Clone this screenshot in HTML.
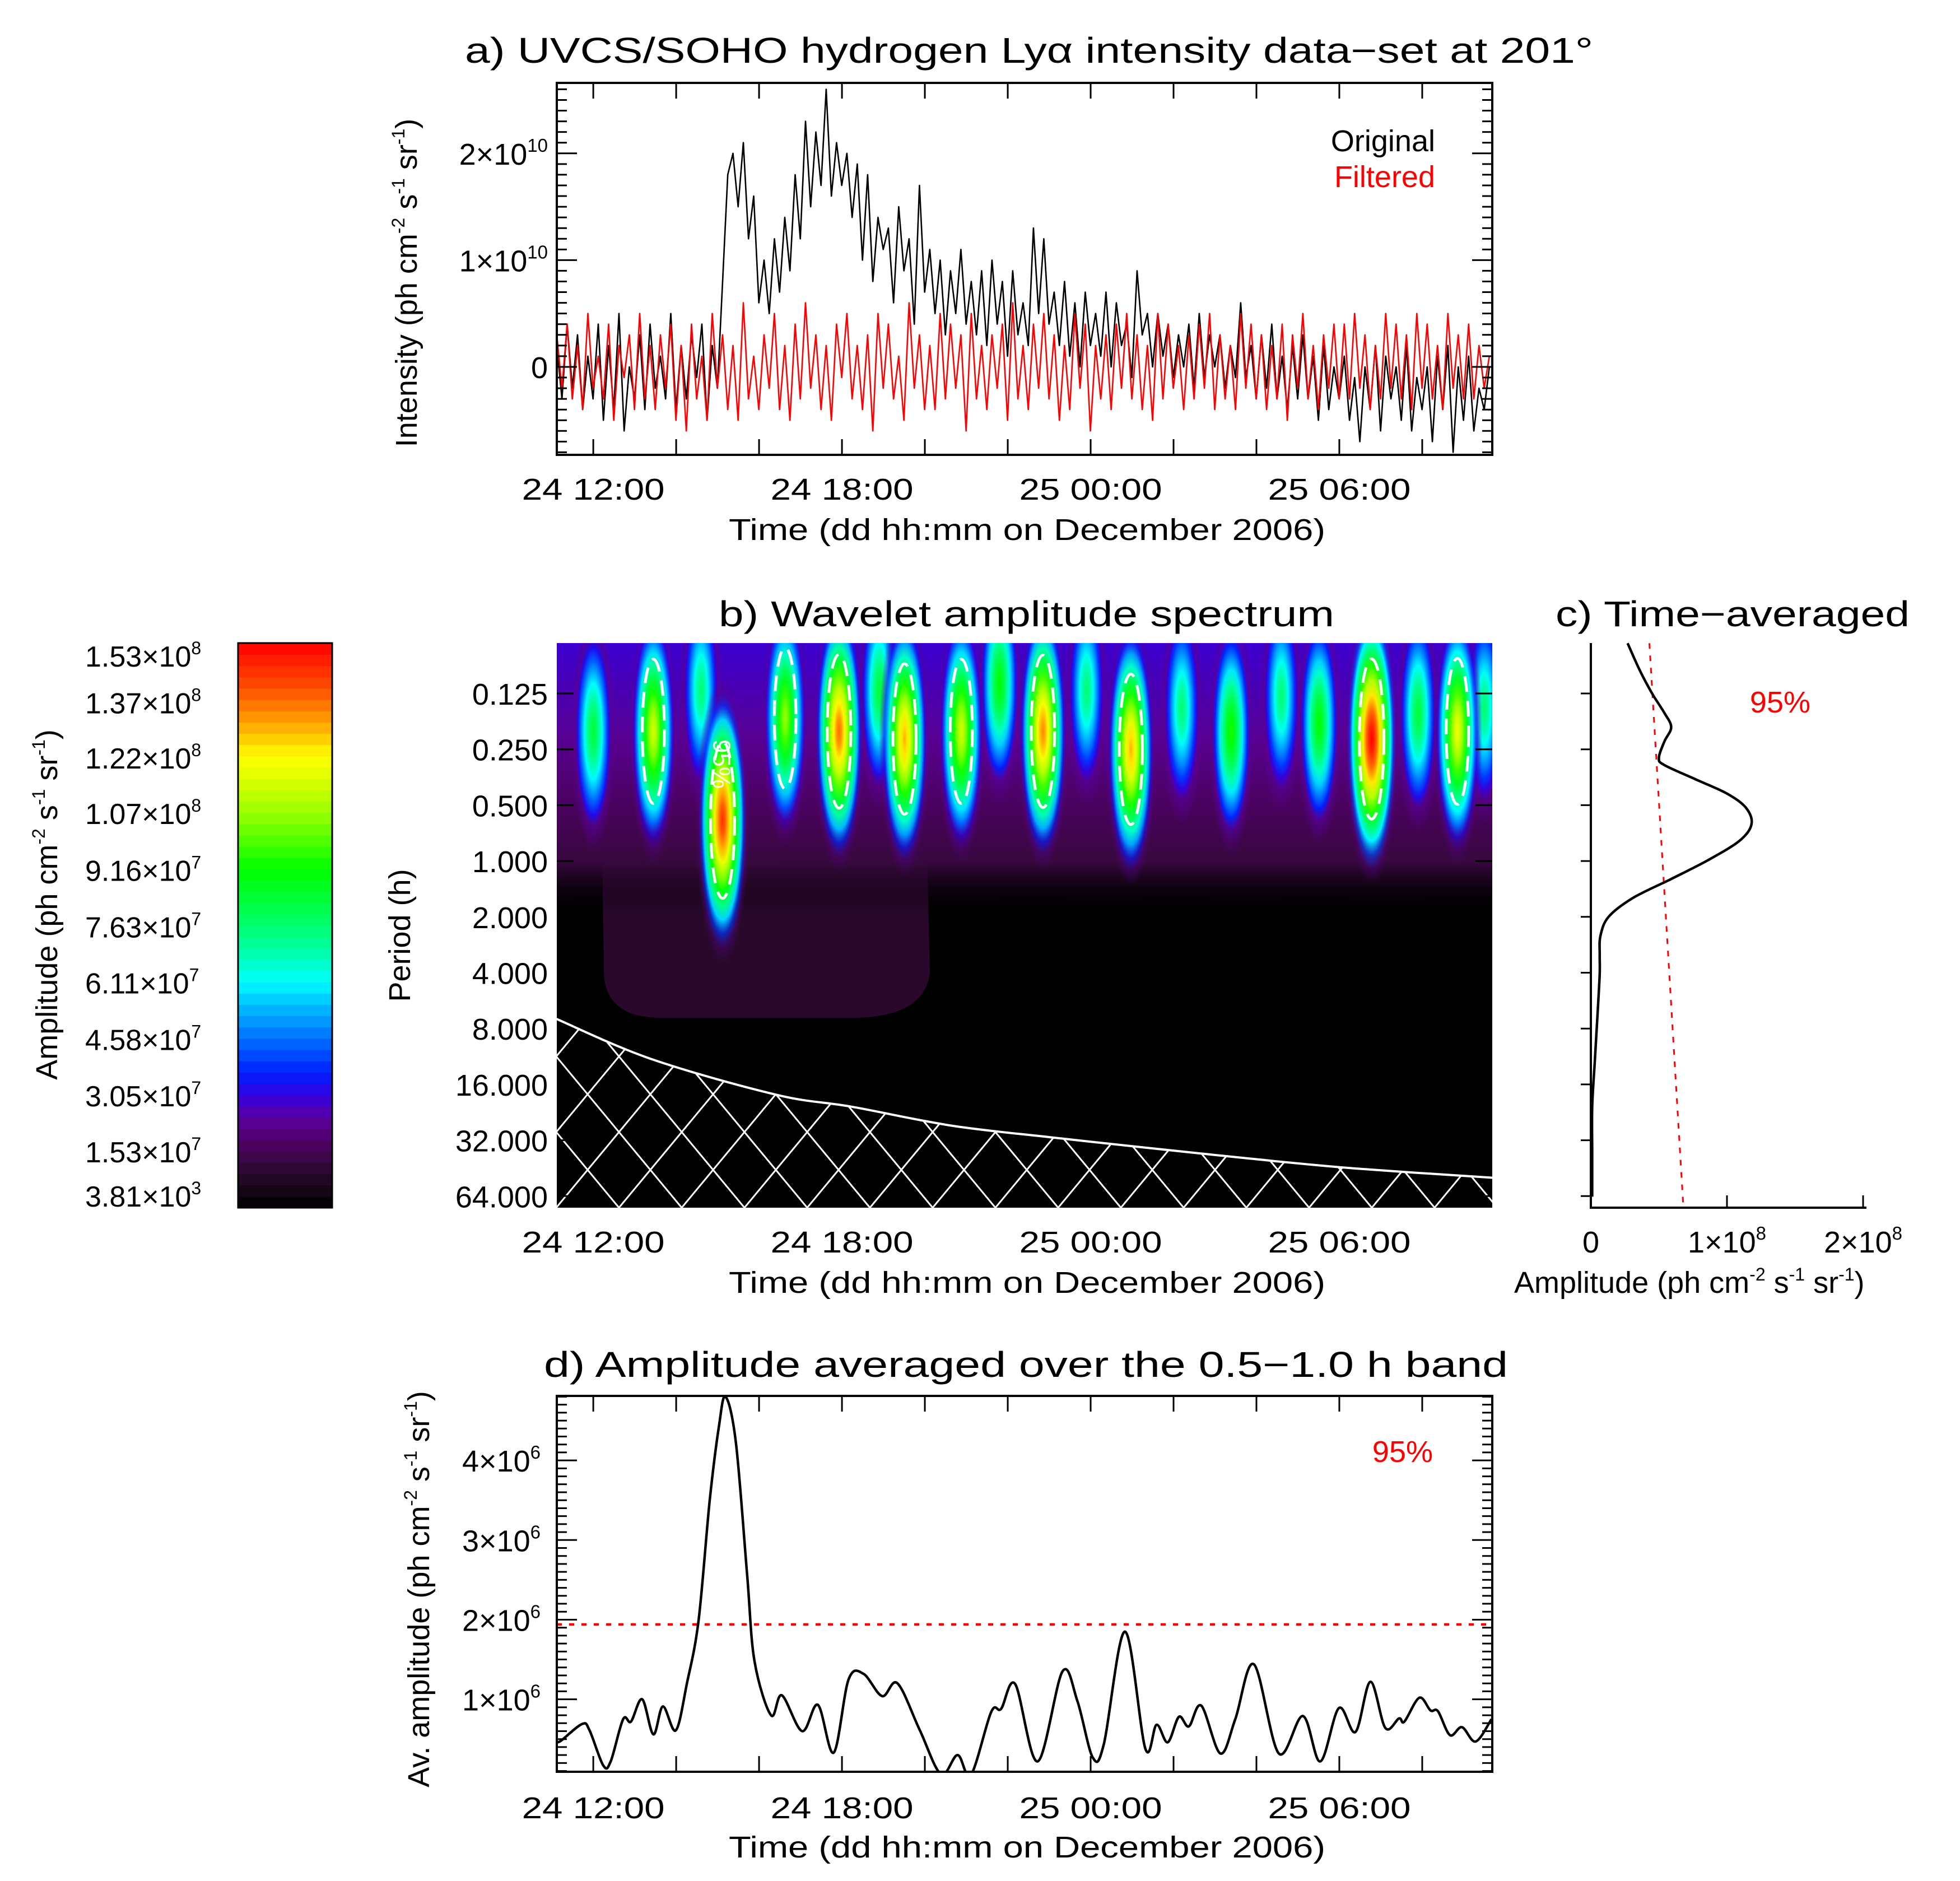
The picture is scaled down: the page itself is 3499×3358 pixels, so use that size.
<!DOCTYPE html>
<html><head><meta charset="utf-8"><style>
html,body{margin:0;padding:0;background:#fff;}
svg{display:block;font-family:"Liberation Sans",sans-serif;}
</style></head><body>
<svg id="fig" width="3499" height="3358" viewBox="0 0 3499 3358" xmlns="http://www.w3.org/2000/svg">
<rect x="0" y="0" width="3499" height="3358" fill="#fff"/>
<defs>
<pattern id="hatch" patternUnits="userSpaceOnUse" width="112" height="135" x="993" y="2156">
<line x1="0" y1="0" x2="112" y2="135" stroke="#fff" stroke-width="3"/>
<line x1="112" y1="0" x2="0" y2="135" stroke="#fff" stroke-width="3"/>
</pattern>
<clipPath id="clipB"><rect x="994" y="1148" width="1670" height="1008"/></clipPath>
<clipPath id="clipA"><rect x="994" y="148" width="1670" height="664"/></clipPath>
<clipPath id="clipD"><rect x="994" y="2492" width="1670" height="671"/></clipPath>
</defs>
<!-- titles -->
<text x="830" y="112" font-size="64" textLength="2014" lengthAdjust="spacingAndGlyphs">a) UVCS/SOHO hydrogen Lyα intensity data−set at 201°</text>
<text x="1283" y="1118" font-size="64" textLength="1099" lengthAdjust="spacingAndGlyphs">b) Wavelet amplitude spectrum</text>
<text x="2777" y="1118" font-size="64" textLength="632" lengthAdjust="spacingAndGlyphs">c) Time−averaged</text>
<text x="971" y="2458" font-size="64" textLength="1721" lengthAdjust="spacingAndGlyphs">d) Amplitude averaged over the 0.5−1.0 h band</text>
<!-- axis titles -->
<text x="1301" y="964" font-size="54" textLength="1065" lengthAdjust="spacingAndGlyphs">Time (dd hh:mm on December 2006)</text>
<text x="1301" y="2308" font-size="54" textLength="1065" lengthAdjust="spacingAndGlyphs">Time (dd hh:mm on December 2006)</text>
<text x="1301" y="3316" font-size="54" textLength="1065" lengthAdjust="spacingAndGlyphs">Time (dd hh:mm on December 2006)</text>
<text x="2703" y="2308" font-size="54">Amplitude (ph cm<tspan dy="-22" font-size="32">-2</tspan><tspan dy="22"> s</tspan><tspan dy="-22" font-size="32">-1</tspan><tspan dy="22"> sr</tspan><tspan dy="-22" font-size="32">-1</tspan><tspan dy="22">)</tspan></text>
<text transform="translate(744,505) rotate(-90)" text-anchor="middle" font-size="54">Intensity (ph cm<tspan dy="-22" font-size="32">-2</tspan><tspan dy="22"> s</tspan><tspan dy="-22" font-size="32">-1</tspan><tspan dy="22"> sr</tspan><tspan dy="-22" font-size="32">-1</tspan><tspan dy="22">)</tspan></text>
<text transform="translate(766,2837) rotate(-90)" text-anchor="middle" font-size="54">Av. amplitude (ph cm<tspan dy="-22" font-size="32">-2</tspan><tspan dy="22"> s</tspan><tspan dy="-22" font-size="32">-1</tspan><tspan dy="22"> sr</tspan><tspan dy="-22" font-size="32">-1</tspan><tspan dy="22">)</tspan></text>
<text transform="translate(102,1615) rotate(-90)" text-anchor="middle" font-size="54">Amplitude (ph cm<tspan dy="-22" font-size="32">-2</tspan><tspan dy="22"> s</tspan><tspan dy="-22" font-size="32">-1</tspan><tspan dy="22"> sr</tspan><tspan dy="-22" font-size="32">-1</tspan><tspan dy="22">)</tspan></text>
<text transform="translate(732,1670) rotate(-90)" text-anchor="middle" font-size="54">Period (h)</text>
<!-- legends / labels -->
<text x="2562" y="270" font-size="54" text-anchor="end" fill="#000">Original</text>
<text x="2562" y="334" font-size="54" text-anchor="end" fill="#f00">Filtered</text>
<text x="2558" y="2610" font-size="54" text-anchor="end" fill="#f00">95%</text>
<text x="3232" y="1272" font-size="54" text-anchor="end" fill="#f00">95%</text>
<g id="gA"></g>
<g id="gB"></g>
<g id="gC"></g>
<g id="gD"></g>
<g id="gCB"></g>
</svg>
<script>
// ---------- data ----------
const timeTickHours = [12, 18, 24, 30];
const timeTickLabels = ["24 12:00", "24 18:00", "25 00:00", "25 06:00"];
// panel a (units 1e9), sampled uniformly from aStart to aEnd hours
const aStart = 11.12, aEnd = 33.62;
const aOriginal = [2,-3,4,-2,3,-4,1,-3, 4,-5,2,-4,5,-6,0,-3, 3,-4,4,-2,1,-3,5,-4, 2,-3,3,-1,4,-5,2,-2,
 8,18,20,15, 21,12,16,6, 10,5,12,7, 14,9,18,12, 23,15,22,17, 26,16,21,17, 20,14,19,10, 18,8,14,11,
 13,6,15,9, 12,4,17,7, 11,5,10,3, 9,5,11,4, 8,3,9,2, 10,4,8,1, 9,3,6,2, 13,5,12,4, 7,2,8,1, 6,0,7,2,
 5,1,7,0, 6,2,4,-1, 9,3,5,0, 5,1,4,-1, 3,0,4,-2, 5,-1,3,0, 3,-2,2,-1, 6,-1,2,-3, 3,-2,4,-3, 1,-4,2,-3,
 3,-3,1,-5, 2,-4,0,-3, 1,-5,-1,-7, 0,-4,2,-6, 1,-3,0,-5, 2,-6,-1,-4, 0,-7,1,-4, 2,-8,0,-5, 1,-6,-2,-4,0];
const aFiltered = [3,-2,4,-3,2,-4,5,-2, 1,-3,4,-5,2,-1,3,-4, 5,-3,2,-4,3,-2,4,-5, 2,-6,4,-3,1,-5,5,-2,
 3,-4,2,-5, 6,-3,1,-4, 3,-2,5,-4, 2,-5,4,-3, 6,-2,3,-4, 2,-5,4,-1, 5,-3,2,-4, 3,-6,5,-2, 4,-3,1,-5,
 6,-2,3,-4, 2,-4,5,-3, 4,-2,3,-6, 5,-3,2,-4, 3,-2,4,-5, 6,-3,2,-4, 4,-2,5,-3, 3,-5,2,-4, 5,-2,4,-6,
 2,-3,3,-4, 4,-2,5,-3, 3,-4,2,-5, 5,-3,4,-2, 2,-4,3,-3, 4,-2,5,-4, 3,-3,2,-4, 5,-2,4,-3, 3,-4,2,-3,
 4,-5,3,-2, 5,-3,2,-4, 3,-2,4,-3, 4,-3,5,-2, 3,-4,2,-3, 5,-2,4,-3, 3,-4,5,-2, 4,-3,2,-4, 5,-2,3,-3, 4,-3,2,-2,1];
const aYTicks = [0, 10, 20];
const aYTickLabels = [["0",""],["1×10","10"],["2×10","10"]];
// panel b: wavelet blobs
const blobT = [12.0,13.45,14.6,15.12,16.63,17.93,18.9,19.51,20.88,21.8,22.85,23.9,24.97,26.2,27.39,28.6,29.51,30.78,31.9,32.85,33.5];
const blobP = [0.2,0.2,0.12,0.6,0.17,0.2,0.12,0.22,0.2,0.11,0.2,0.12,0.25,0.15,0.2,0.13,0.18,0.22,0.16,0.2,0.15];
const blobAmp = [0.55,0.75,0.5,0.95,0.7,0.9,0.55,0.85,0.75,0.6,0.88,0.5,0.85,0.5,0.62,0.5,0.6,1.0,0.55,0.78,0.5];
const periodTicks = [0.125,0.25,0.5,1,2,4,8,16,32,64];
const periodLabels = ["0.125","0.250","0.500","1.000","2.000","4.000","8.000","16.000","32.000","64.000"];
const coiT = [11.11,13.41,16.42,18.23,20.65,23.07,25.19,27.90,30.32,33.70];
const coiP = [7.1,11.7,18.2,21.1,26.7,30.9,34.8,40.3,45.3,51];
// panel c (units 1e8)
const cP = [0.067,0.094,0.125,0.159,0.190,0.227,0.278,0.304,0.363,0.433,0.517,0.635,0.78,0.99,1.25,1.58,2.0,2.54,3.2,4.06,6.5,11.7,21.1,38,64.5];
const cV = [0.27,0.36,0.45,0.54,0.59,0.54,0.50,0.54,0.77,1.0,1.14,1.18,1.09,0.86,0.59,0.31,0.13,0.07,0.065,0.065,0.05,0.03,0.01,0.01,0.01];
const cSigP = [0.067, 74];
const cSigV = [0.43, 0.68];
const cXTicks = [0,1,2];
const cXTickLabels = [["0",""],["1×10","8"],["2×10","8"]];
// panel d (units 1e6)
const dT = [11.11,11.22,11.73,11.91,12.24,12.42,12.72,12.91,13.18,13.45,13.68,13.99,14.26,14.54,14.81,15.03,15.19,15.44,15.71,15.89,16.29,16.55,17.04,17.42,17.80,18.16,18.52,18.97,19.34,19.88,20.39,20.79,21.11,21.60,21.84,22.18,22.72,23.32,23.68,24.05,24.32,24.83,25.32,25.59,25.86,26.13,26.37,26.67,27.13,27.49,27.94,28.54,29.12,29.54,29.99,30.39,30.75,31.11,31.44,31.57,31.93,32.20,32.38,32.67,32.96,33.29,33.67];
const dV = [0.47,0.48,0.69,0.61,0.17,0.22,0.75,0.72,1.0,0.56,0.91,0.61,1.2,1.99,3.5,4.42,4.8,4.23,2.58,1.48,0.8,1.05,0.6,0.93,0.33,1.25,1.32,1.04,1.2,0.61,0.06,0.3,0.05,0.84,0.88,1.19,0.22,1.35,0.98,0.27,0.44,1.85,0.38,0.68,0.46,0.78,0.66,0.92,0.32,0.75,1.44,0.32,0.79,0.22,0.89,0.59,1.22,0.64,0.76,0.72,1.02,0.86,0.85,0.55,0.65,0.47,0.75];
const dSig = 1.94;
const dYTicks = [1,2,3,4];
const dYTickLabels = [["1×10","6"],["2×10","6"],["3×10","6"],["4×10","6"]];
// colorbar
const cbMax = 1.53e8;
const cbLabelVals = [1.53e8,1.37e8,1.22e8,1.07e8,9.16e7,7.63e7,6.11e7,4.58e7,3.05e7,1.53e7,3.81e3];
const cbLabels = [["1.53×10","8"],["1.37×10","8"],["1.22×10","8"],["1.07×10","8"],["9.16×10","7"],["7.63×10","7"],["6.11×10","7"],["4.58×10","7"],["3.05×10","7"],["1.53×10","7"],["3.81×10","3"]];

// ---------- layout ----------
const NS = "http://www.w3.org/2000/svg";
const X0 = 994, X1 = 2664, TMIN = 11.12, TMAX = 33.69;
function xT(t){ return X0 + (t - TMIN) / (TMAX - TMIN) * (X1 - X0); }
const A = {y0:148, y1:812, vmin:-8.24, vmax:26.6};
function yA(v){ return A.y1 - (v - A.vmin)/(A.vmax - A.vmin)*(A.y1 - A.y0); }
const B = {y0:1148, y1:2156};
function yP(p){ return 1238 + 99.7*Math.log2(p/0.125); }
const C = {x0:2840, x1:3332, perUnit:243};
function xC(v){ return C.x0 + v*C.perUnit; }
const D = {y0:2492, y1:3163, vmin:0.09, vmax:4.81};
function yD(v){ return D.y1 - (v - D.vmin)/(D.vmax - D.vmin)*(D.y1 - D.y0); }
const CB = {x0:425, x1:593, y0:1148, y1:2156};

const cmStops=[[0,[0,0,0]],[0.04,[26,8,26]],[0.08,[55,8,62]],[0.12,[80,0,105]],[0.16,[90,0,160]],[0.2,[50,0,225]],[0.24,[0,32,255]],[0.3,[0,112,255]],[0.36,[0,192,255]],[0.4,[0,255,255]],[0.46,[0,255,160]],[0.54,[0,255,64]],[0.6,[0,255,0]],[0.68,[128,255,0]],[0.76,[224,255,0]],[0.8,[255,255,0]],[0.86,[255,160,0]],[0.92,[255,80,0]],[1,[255,0,0]]];
function cmap(f){
  f = Math.max(0, Math.min(1, f));
  for (let i=1;i<cmStops.length;i++){
    if (f <= cmStops[i][0]){
      const a=cmStops[i-1], b=cmStops[i]; const u=(f-a[0])/(b[0]-a[0]);
      const c=a[1].map((v,k)=>Math.round(v+(b[1][k]-v)*u));
      return "rgb("+c.join(",")+")";
    }
  }
  return "rgb(255,0,0)";
}
function mk(tag, parent, attrs){
  const el = document.createElementNS(NS, tag);
  for (const k in attrs) el.setAttribute(k, attrs[k]);
  parent.appendChild(el);
  return el;
}
function supText(parent, x, y, base, sup, anchor, fs, name){
  const t = mk("text", parent, {x:x, y:y, "font-size":fs, "text-anchor":anchor});
  
  
  t.appendChild(document.createTextNode(base));
  if (sup){
    const s = mk("tspan", t, {dy:-Math.round(fs*0.42), "font-size":Math.round(fs*0.62)});
    s.textContent = sup;
  }
  return t;
}
function smoothPath(pts){
  let d = "M"+pts[0][0].toFixed(1)+","+pts[0][1].toFixed(1);
  for (let i=0;i<pts.length-1;i++){
    const p0=pts[Math.max(0,i-1)], p1=pts[i], p2=pts[i+1], p3=pts[Math.min(pts.length-1,i+2)];
    const c1=[p1[0]+(p2[0]-p0[0])/6, p1[1]+(p2[1]-p0[1])/6];
    const c2=[p2[0]-(p3[0]-p1[0])/6, p2[1]-(p3[1]-p1[1])/6];
    d += " C"+c1[0].toFixed(1)+","+c1[1].toFixed(1)+" "+c2[0].toFixed(1)+","+c2[1].toFixed(1)+" "+p2[0].toFixed(1)+","+p2[1].toFixed(1);
  }
  return d;
}
function timeAxis(g, y0, y1, labelY, prefix){
  for (let h=12; h<=33; h+=2){
    const x = xT(h);
    const t1 = mk("line", g, {x1:x,y1:y1,x2:x,y2:y1-28,stroke:"#000","stroke-width":3});
    
    
    const t2 = mk("line", g, {x1:x,y1:y0,x2:x,y2:y0+28,stroke:"#000","stroke-width":3});
    
    
  }
  timeTickHours.forEach((h,i)=>{
    const t = mk("text", g, {x:xT(h), y:labelY, "font-size":54, "text-anchor":"middle", textLength:255, lengthAdjust:"spacingAndGlyphs"});
    
    
    t.textContent = timeTickLabels[i];
  });
}
function box(g, x0,y0,x1,y1,name){
  const r = mk("rect", g, {x:x0,y:y0,width:x1-x0,height:y1-y0,fill:"none",stroke:"#000","stroke-width":4});
  
  
}

// ---------- panel a ----------
(function(){
  const g = document.getElementById("gA");
  const gc = mk("g", g, {"clip-path":"url(#clipA)"});
  function series(vals, color, name){
    const n = vals.length;
    const pts = vals.map((v,i)=>[xT(aStart + i*(aEnd-aStart)/(n-1)), yA(v)]);
    const p = mk("polyline", gc, {points:pts.map(q=>q[0].toFixed(1)+","+q[1].toFixed(1)).join(" "), fill:"none", stroke:color, "stroke-width":2.6, "stroke-linejoin":"round"});
    
    
  }
  series(aOriginal, "#000", "original-series");
  series(aFiltered, "#f00", "filtered-series");
  box(g, X0, A.y0, X1, A.y1, "plot-frame-a");
  for (let v=-8; v<=26; v+=1){
    const major = (v % 10 === 0);
    const len = major ? 36 : 18;
    mk("line", g, {x1:X0,y1:yA(v),x2:X0+len,y2:yA(v),stroke:"#000","stroke-width":3});
    mk("line", g, {x1:X1,y1:yA(v),x2:X1-len,y2:yA(v),stroke:"#000","stroke-width":3});
  }
  aYTicks.forEach((v,i)=>{
    supText(g, 978, yA(v)+20, aYTickLabels[i][0], aYTickLabels[i][1], "end", 54, "y-tick-label-a");
  });
  timeAxis(g, A.y0, A.y1, 892, "a");
})();

// ---------- panel b ----------
(function(){
  const g = document.getElementById("gB");
  const defs = document.querySelector("defs");
  const gc = mk("g", g, {"clip-path":"url(#clipB)"});
  const bg = mk("rect", gc, {x:X0,y:B.y0,width:X1-X0,height:B.y1-B.y0,fill:"#000"});
  
  
  // left haze region
  const hy0 = yP(0.9), hy1 = yP(7);
  const hz = mk("path", gc, {d:"M1075,"+hy0+" L1655,"+hy0+" L1660,"+(hy1-80)+" Q1650,"+hy1+" 1520,"+hy1+" L1180,"+hy1+" Q1075,"+hy1+" 1078,"+(hy1-90)+" Z", fill:cmap(0.06)});
  
  
  // background haze gradient
  const lg = mk("linearGradient", defs, {id:"bgGrad", x1:0, y1:B.y0, x2:0, y2:yP(2), gradientUnits:"userSpaceOnUse"});
  [[0,0.19,1],[0.35,0.15,1],[0.6,0.11,1],[0.8,0.08,1],[1,0.0,0]].forEach(s=>mk("stop", lg, {offset:s[0], "stop-color":cmap(s[1]), "stop-opacity":s[2]}));
  const band = mk("rect", gc, {x:X0,y:B.y0,width:X1-X0,height:yP(2)-B.y0,fill:"url(#bgGrad)"});
  
  
  // blobs sorted by amplitude
  const order = blobT.map((t,i)=>i).sort((a,b)=>blobAmp[a]-blobAmp[b]);
  order.forEach(i=>{
    const amp = blobAmp[i];
    const gid = "blob"+i;
    const rg = mk("radialGradient", defs, {id:gid, cx:0.5, cy:0.5, r:0.5});
    for (let k=0;k<=10;k++){
      const o = k/10;
      const val = Math.max(amp*(1-Math.pow(o,1.4)), 0.15);
      mk("stop", rg, {offset:o, "stop-color":cmap(val), "stop-opacity": k<8 ? 1 : (10-k)/3});
    }
    const cx = xT(blobT[i]), cy = yP(blobP[i]);
    const rx = 0.55*74*(0.7+amp*0.5), ry = 130*(1.2+amp*0.8);
    const e = mk("ellipse", gc, {cx:cx, cy:cy, rx:rx, ry:ry, fill:"url(#"+gid+")"});
    
    
    if (amp >= 0.7){
      const c = mk("ellipse", gc, {cx:cx, cy:cy, rx:rx*0.45, ry:ry*0.55, fill:"none", stroke:"#fff", "stroke-width":5, "stroke-dasharray":"28 16"});
      
      
    }
  });
  const sl = mk("text", gc, {transform:"translate("+(xT(14.9))+","+yP(0.3)+") rotate(90)", "font-size":44, fill:"#fff", "text-anchor":"middle"});
  
  
  sl.textContent = "95%";
  // COI
  const coiPts = coiT.map((t,i)=>[xT(t), yP(coiP[i])]);
  const coiD = smoothPath(coiPts);
  const hatch = mk("path", gc, {d: coiD + " L"+(X1+20)+","+(B.y1+10)+" L"+(X0-20)+","+(B.y1+10)+" Z", fill:"url(#hatch)"});
  
  
  const coi = mk("path", gc, {d: coiD, fill:"none", stroke:"#fff", "stroke-width":4});
  
  
  periodTicks.forEach((p,i)=>{
    mk("line", g, {x1:X0,y1:yP(p),x2:X0+30,y2:yP(p),stroke:"#000","stroke-width":3});
    mk("line", g, {x1:X1,y1:yP(p),x2:X1-30,y2:yP(p),stroke:"#000","stroke-width":3});
    const t = mk("text", g, {x:978, y:yP(p)+20, "font-size":54, "text-anchor":"end"});
    
    
    t.textContent = periodLabels[i];
  });
  timeTickHours.forEach((h,i)=>{
    const t = mk("text", g, {x:xT(h), y:2236, "font-size":54, "text-anchor":"middle", textLength:255, lengthAdjust:"spacingAndGlyphs"});
    
    
    t.textContent = timeTickLabels[i];
  });
})();

// ---------- panel c ----------
(function(){
  const g = document.getElementById("gC");
  const ax = mk("path", g, {d:"M"+C.x0+","+B.y0+" L"+C.x0+","+B.y1+" L"+C.x1+","+B.y1, fill:"none", stroke:"#000", "stroke-width":4});
  
  
  periodTicks.forEach(p=>{ mk("line", g, {x1:C.x0-18,y1:yP(p),x2:C.x0,y2:yP(p),stroke:"#000","stroke-width":3}); });
  cXTicks.forEach((v,i)=>{
    mk("line", g, {x1:xC(v),y1:B.y1,x2:xC(v),y2:B.y1-22,stroke:"#000","stroke-width":3});
    supText(g, xC(v), 2236, cXTickLabels[i][0], cXTickLabels[i][1], "middle", 54, "x-tick-label-c");
  });
  const sig = mk("line", g, {x1:xC(cSigV[0]), y1:yP(cSigP[0]), x2:xC(cSigV[1]), y2:Math.min(yP(cSigP[1]),B.y1), stroke:"#f00", "stroke-width":3, "stroke-dasharray":"10 12"});
  
  
  const pts = cP.map((p,i)=>[xC(cV[i]), Math.max(B.y0, yP(p))]);
  const cv = mk("path", g, {d:smoothPath(pts), fill:"none", stroke:"#000", "stroke-width":4.5});
  
  
})();

// ---------- panel d ----------
(function(){
  const g = document.getElementById("gD");
  const gc = mk("g", g, {"clip-path":"url(#clipD)"});
  const sig = mk("line", gc, {x1:X0, y1:yD(dSig), x2:X1, y2:yD(dSig), stroke:"#f00", "stroke-width":4.5, "stroke-dasharray":"9 13"});
  
  
  const pts = dT.map((t,i)=>[xT(t), yD(dV[i])]);
  const cv = mk("path", gc, {d:smoothPath(pts), fill:"none", stroke:"#000", "stroke-width":4.5});
  
  
  box(g, X0, D.y0, X1, D.y1, "plot-frame-d");
  for (let k=1; k<=48; k++){
    const v = k/10;
    if (v < D.vmin || v > D.vmax) continue;
    const major = (k % 10 === 0);
    const len = major ? 36 : 18;
    mk("line", g, {x1:X0,y1:yD(v),x2:X0+len,y2:yD(v),stroke:"#000","stroke-width":3});
    mk("line", g, {x1:X1,y1:yD(v),x2:X1-len,y2:yD(v),stroke:"#000","stroke-width":3});
  }
  dYTicks.forEach((v,i)=>{
    supText(g, 965, yD(v)+20, dYTickLabels[i][0], dYTickLabels[i][1], "end", 54, "y-tick-label-d");
  });
  timeAxis(g, D.y0, D.y1, 3246, "d");
})();

// ---------- colorbar ----------
(function(){
  const g = document.getElementById("gCB");
  const nb = 50;
  const h = (CB.y1 - CB.y0)/nb;
  for (let i=0;i<nb;i++){
    const r = mk("rect", g, {x:CB.x0, y:CB.y1-(i+1)*h, width:CB.x1-CB.x0, height:h+0.8, fill:cmap((i+0.5)/nb)});
    
    
  }
  const fr = mk("rect", g, {x:CB.x0, y:CB.y0, width:CB.x1-CB.x0, height:CB.y1-CB.y0, fill:"none", stroke:"#000", "stroke-width":3});
  
  
  cbLabelVals.forEach((v,i)=>{
    let yc = CB.y1 - v/cbMax*(CB.y1-CB.y0);
    yc = Math.max(CB.y0+22, Math.min(CB.y1-22, yc));
    supText(g, 152, yc+20, cbLabels[i][0], cbLabels[i][1], "start", 52, "colorbar-tick-label");
  });
})();
</script>
</body></html>
